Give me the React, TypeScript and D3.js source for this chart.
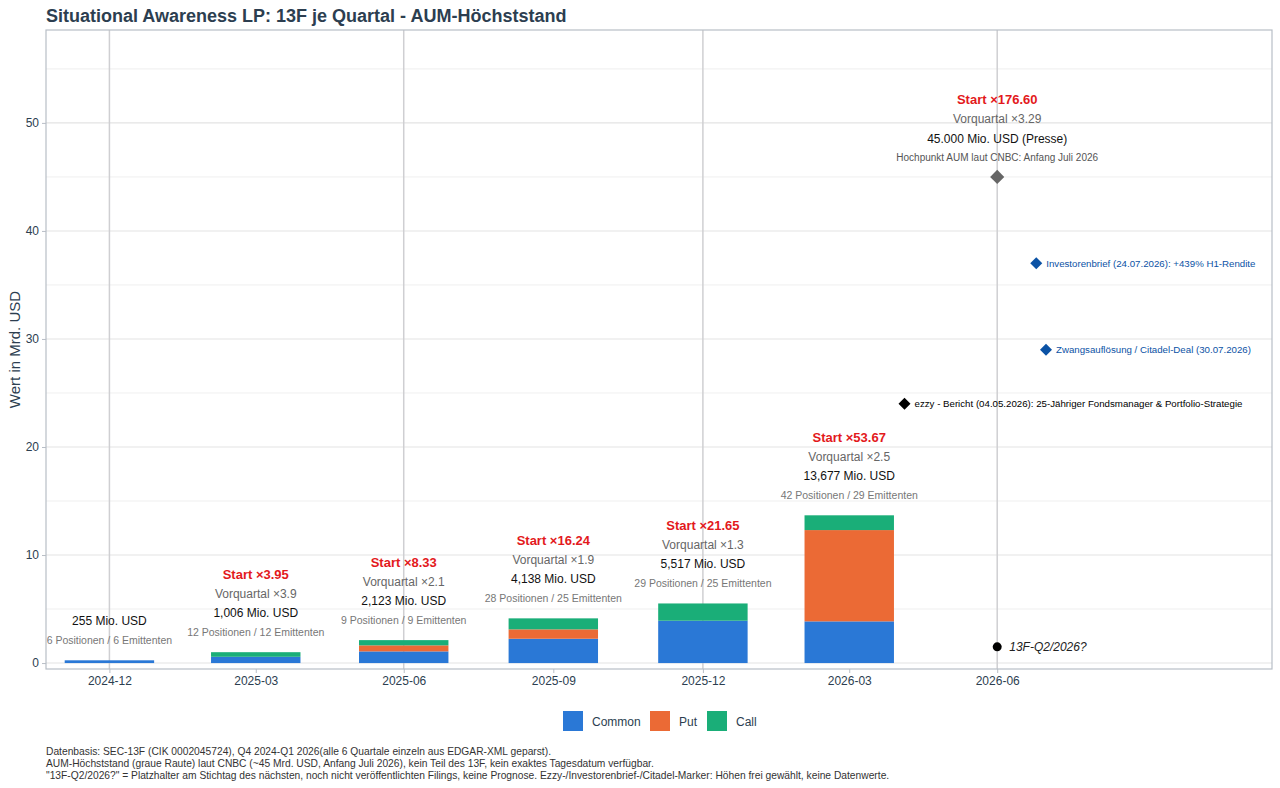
import React, { useEffect, useRef } from 'react';
import * as d3 from 'd3';

// ── Data ──────────────────────────────────────────────────────────────────────
const QUARTERS = ['2024-12-31', '2025-03-31', '2025-06-30', '2025-09-30', '2025-12-31', '2026-03-31'];
const COMMON = [0.255, 0.58, 1.08, 2.25, 3.92, 3.86];
const PUT = [0, 0, 0.56, 0.87, 0, 8.45];
const CALL = [0, 0.426, 0.483, 1.018, 1.597, 1.367];
const TOTAL_MIO = ['255', '1,006', '2,123', '4,138', '5,517', '13,677'];
const POSITIONS = [6, 12, 9, 28, 29, 42];
const ISSUERS = [6, 12, 9, 25, 25, 29];
const START_MULT = [null, '3.95', '8.33', '16.24', '21.65', '53.67'];
const PREV_MULT = [null, '3.9', '2.1', '1.9', '1.3', '2.5'];

const TICK_DATES = ['2024-12-31', '2025-03-31', '2025-06-30', '2025-09-30', '2025-12-31', '2026-03-31', '2026-06-30'];
const TICK_LABELS = ['2024-12', '2025-03', '2025-06', '2025-09', '2025-12', '2026-03', '2026-06'];
const VGRID_DATES = ['2024-12-31', '2025-06-30', '2025-12-31', '2026-06-30'];
const Y_MAJOR = [0, 10, 20, 30, 40, 50];
const Y_MINOR = [5, 15, 25, 35, 45, 55];

const AUM_PEAK = { date: '2026-06-30', value: 45, start: '176.60', prev: '3.29', label: '45.000 Mio. USD (Presse)', note: 'Hochpunkt AUM laut CNBC: Anfang Juli 2026' };
const PLACEHOLDER = { date: '2026-06-30', value: 1.5, label: '13F-Q2/2026?' };
const MARKERS = [
  { date: '2026-07-24', value: 37, label: 'Investorenbrief (24.07.2026): +439% H1-Rendite', color: '#0b52a5' },
  { date: '2026-07-30', value: 29, label: 'Zwangsauflösung / Citadel-Deal (30.07.2026)', color: '#0b52a5' },
  { date: '2026-05-04', value: 24, label: 'ezzy - Bericht (04.05.2026): 25-Jähriger Fondsmanager & Portfolio-Strategie', color: '#000000' },
];

const SERIES = [
  { key: 'Common', values: COMMON, color: '#2a78d6' },
  { key: 'Put', values: PUT, color: '#eb6a35' },
  { key: 'Call', values: CALL, color: '#1aae78' },
];

const FOOTNOTES = [
  'Datenbasis: SEC-13F (CIK 0002045724), Q4 2024-Q1 2026(alle 6 Quartale einzeln aus EDGAR-XML geparst).',
  'AUM-Höchststand (graue Raute) laut CNBC (~45 Mrd. USD, Anfang Juli 2026), kein Teil des 13F, kein exaktes Tagesdatum verfügbar.',
  '"13F-Q2/2026?" = Platzhalter am Stichtag des nächsten, noch nicht veröffentlichten Filings, keine Prognose. Ezzy-/Investorenbrief-/Citadel-Marker: Höhen frei gewählt, keine Datenwerte.',
];

const FONT = '"Liberation Sans", Arial, Helvetica, sans-serif';
const INK = '#2c3e50';

export default function App() {
  const svgRef = useRef<SVGSVGElement>(null);

  useEffect(() => {
    document.body.style.margin = '0';
    if (!svgRef.current) return;
    const W = 1280, H = 788;
    const P = { left: 46, right: 1272, top: 30, bottom: 669 };

    const svg = d3.select(svgRef.current);
    svg.selectAll('*').remove();
    svg.attr('width', W).attr('height', H).style('font-family', FONT);
    svg.append('rect').attr('width', W).attr('height', H).attr('fill', '#fff');

    const x = d3.scaleUtc()
      .domain([new Date('2024-11-22'), new Date('2026-12-16')])
      .range([P.left, P.right]);
    const y = d3.scaleLinear().domain([-0.55, 58.6]).range([P.bottom, P.top]);
    const day = 86400000;
    const barHalf = 27.5 * day;

    // ── Grid ────────────────────────────────────────────────────────────────
    const grid = svg.append('g');
    Y_MINOR.forEach(v => grid.append('line')
      .attr('x1', P.left).attr('x2', P.right).attr('y1', y(v)).attr('y2', y(v))
      .attr('stroke', '#ebebeb').attr('stroke-width', 0.8));
    Y_MAJOR.forEach(v => grid.append('line')
      .attr('x1', P.left).attr('x2', P.right).attr('y1', y(v)).attr('y2', y(v))
      .attr('stroke', '#e3e3e3').attr('stroke-width', 1.1));
    VGRID_DATES.forEach(d => grid.append('line')
      .attr('x1', x(new Date(d))).attr('x2', x(new Date(d))).attr('y1', P.top).attr('y2', P.bottom)
      .attr('stroke', '#cfcfd2').attr('stroke-width', 1.5));

    // ── Stacked bars ────────────────────────────────────────────────────────
    const rows = QUARTERS.map((q, i) => ({ date: new Date(q), Common: COMMON[i], Put: PUT[i], Call: CALL[i] }));
    const stack = d3.stack<any>().keys(SERIES.map(s => s.key))(rows);
    stack.forEach((layer, si) => {
      layer.forEach(seg => {
        const d = seg.data.date as Date;
        if (seg[1] - seg[0] <= 0) return;
        svg.append('rect')
          .attr('x', x(new Date(+d - barHalf)))
          .attr('width', x(new Date(+d + barHalf)) - x(new Date(+d - barHalf)))
          .attr('y', y(seg[1]))
          .attr('height', y(seg[0]) - y(seg[1]))
          .attr('fill', SERIES[si].color);
      });
    });

    // ── Bar annotations ─────────────────────────────────────────────────────
    const annotate = (cx: number, top: number, lines: { t: string; off: number; size: number; fill: string; weight?: string }[]) => {
      lines.forEach(l => svg.append('text')
        .attr('x', cx).attr('y', top - l.off)
        .attr('text-anchor', 'middle').attr('dominant-baseline', 'central')
        .attr('font-size', l.size).attr('font-weight', l.weight || 'normal')
        .attr('fill', l.fill).text(l.t));
    };
    QUARTERS.forEach((q, i) => {
      const total = COMMON[i] + PUT[i] + CALL[i];
      const lines: any[] = [
        { t: `${POSITIONS[i]} Positionen / ${ISSUERS[i]} Emittenten`, off: 20, size: 10.5, fill: '#777' },
        { t: `${TOTAL_MIO[i]} Mio. USD`, off: 39.5, size: 12, fill: '#111' },
      ];
      if (PREV_MULT[i]) lines.push({ t: `Vorquartal ×${PREV_MULT[i]}`, off: 58.5, size: 12, fill: '#666' });
      if (START_MULT[i]) lines.push({ t: `Start ×${START_MULT[i]}`, off: 78, size: 13, fill: '#e3191c', weight: 'bold' });
      annotate(x(new Date(q)), y(total), lines);
    });

    // ── AUM peak ────────────────────────────────────────────────────────────
    const ax = x(new Date(AUM_PEAK.date)), ay = y(AUM_PEAK.value);
    svg.append('path').attr('d', d3.symbol(d3.symbolSquare, 100)()!)
      .attr('transform', `translate(${ax},${ay}) rotate(45)`).attr('fill', '#666');
    annotate(ax, ay, [
      { t: AUM_PEAK.note, off: 19, size: 10, fill: '#555' },
      { t: AUM_PEAK.label, off: 38, size: 12, fill: '#111' },
      { t: `Vorquartal ×${AUM_PEAK.prev}`, off: 58, size: 12, fill: '#666' },
      { t: `Start ×${AUM_PEAK.start}`, off: 77, size: 13, fill: '#e3191c', weight: 'bold' },
    ]);

    // ── Event markers ───────────────────────────────────────────────────────
    MARKERS.forEach(m => {
      const mx = x(new Date(m.date)), my = y(m.value);
      svg.append('path').attr('d', d3.symbol(d3.symbolSquare, 72)()!)
        .attr('transform', `translate(${mx},${my}) rotate(45)`).attr('fill', m.color);
      svg.append('text').attr('x', mx + 10).attr('y', my).attr('dominant-baseline', 'central')
        .attr('font-size', 9.7).attr('fill', m.color).text(m.label);
    });

    // ── Placeholder point ───────────────────────────────────────────────────
    const px = x(new Date(PLACEHOLDER.date)), py = y(PLACEHOLDER.value);
    svg.append('circle').attr('cx', px).attr('cy', py).attr('r', 4.5).attr('fill', '#000');
    svg.append('text').attr('x', px + 12).attr('y', py).attr('dominant-baseline', 'central')
      .attr('font-size', 12).attr('font-style', 'italic').attr('fill', '#222').text(PLACEHOLDER.label);

    // ── Panel border ────────────────────────────────────────────────────────
    svg.append('rect').attr('x', P.left).attr('y', P.top)
      .attr('width', P.right - P.left).attr('height', P.bottom - P.top)
      .attr('fill', 'none').attr('stroke', '#b8bec6').attr('stroke-width', 1.2);

    // ── Axes ────────────────────────────────────────────────────────────────
    const xAxis = svg.append('g').attr('transform', `translate(0,${P.bottom})`)
      .call(d3.axisBottom(x).tickValues(TICK_DATES.map(d => new Date(d)))
        .tickFormat((_, i) => TICK_LABELS[i]).tickSize(4).tickPadding(3));
    xAxis.select('.domain').remove();
    xAxis.selectAll('line').attr('stroke', '#b8bec6');
    xAxis.selectAll('text').attr('fill', INK).attr('font-size', 12).attr('font-family', FONT);

    const yAxis = svg.append('g').attr('transform', `translate(${P.left},0)`)
      .call(d3.axisLeft(y).tickValues(Y_MAJOR).tickSize(4).tickPadding(3));
    yAxis.select('.domain').remove();
    yAxis.selectAll('line').attr('stroke', '#b8bec6');
    yAxis.selectAll('text').attr('fill', INK).attr('font-size', 12).attr('font-family', FONT);

    svg.append('text')
      .attr('transform', `translate(14,${(P.top + P.bottom) / 2}) rotate(-90)`)
      .attr('text-anchor', 'middle').attr('dominant-baseline', 'central')
      .attr('font-size', 15).attr('fill', INK).text('Wert in Mrd. USD');

    // ── Title ───────────────────────────────────────────────────────────────
    svg.append('text').attr('x', P.left).attr('y', 16).attr('dominant-baseline', 'central')
      .attr('font-size', 18).attr('font-weight', 'bold').attr('fill', INK)
      .text('Situational Awareness LP: 13F je Quartal - AUM-Höchststand');

    // ── Legend ──────────────────────────────────────────────────────────────
    const legendX = [563, 650, 707];
    SERIES.forEach((s, i) => {
      svg.append('rect').attr('x', legendX[i]).attr('y', 711).attr('width', 20).attr('height', 20).attr('fill', s.color);
      svg.append('text').attr('x', legendX[i] + 29).attr('y', 721.5).attr('dominant-baseline', 'central')
        .attr('font-size', 12).attr('fill', INK).text(s.key);
    });

    // ── Footnotes ───────────────────────────────────────────────────────────
    FOOTNOTES.forEach((t, i) => svg.append('text')
      .attr('x', P.left).attr('y', 751 + i * 12).attr('dominant-baseline', 'central')
      .attr('font-size', 10.25).attr('fill', '#333').text(t));
  }, []);

  return <svg ref={svgRef} style={{ display: 'block' }} />;
}
